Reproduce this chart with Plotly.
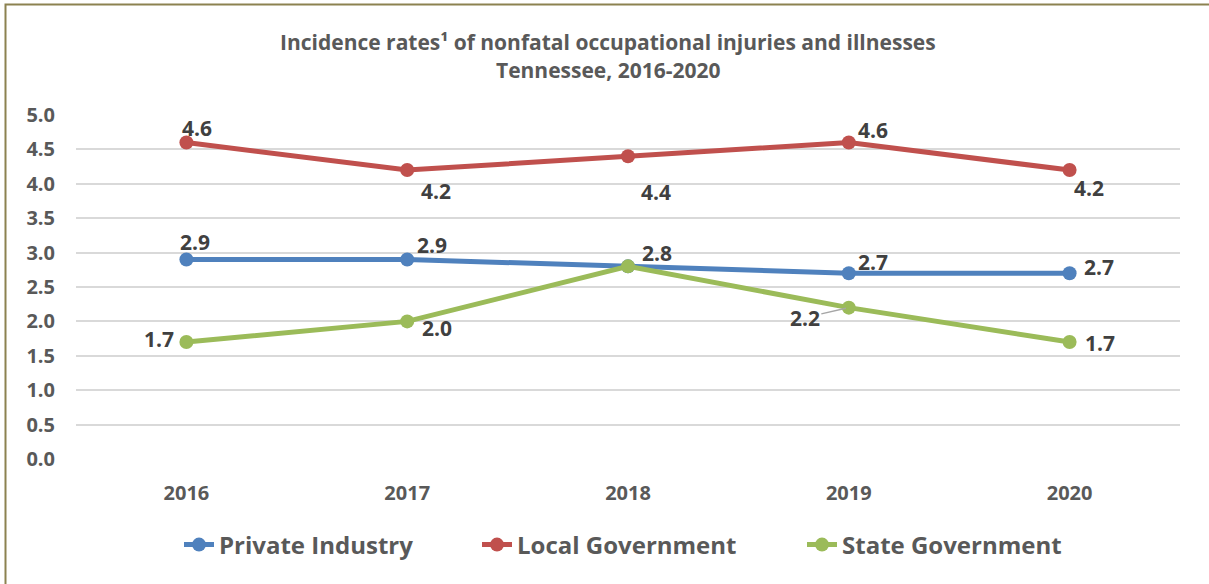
import plotly.graph_objects as go

years = ["2016", "2017", "2018", "2019", "2020"]
private_industry = [2.9, 2.9, 2.8, 2.7, 2.7]
local_government = [4.6, 4.2, 4.4, 4.6, 4.2]
state_government = [1.7, 2.0, 2.8, 2.2, 1.7]
y_ticks = [0.0, 0.5, 1.0, 1.5, 2.0, 2.5, 3.0, 3.5, 4.0, 4.5, 5.0]
title_lines = ["Incidence rates¹ of nonfatal occupational injuries and illnesses",
               "Tennessee, 2016-2020"]

series = [
    ("Private Industry", private_industry, "#4F81BD",
     [(9, -17), (25, -14), (29, -13), (24, -11), (29, -6)], 220),
    ("Local Government", local_government, "#C0504D",
     [(11, -15), (29, 21), (28, 36), (24, -13), (19, 18)], 518),
    ("State Government", state_government, "#9BBB59",
     [(-27, -3), (30, 7), None, (-44, 10), (30, 1)], 843),
]

FONT = "Open Sans"
PL, PW, PT, PH = 76, 1104, 115, 344  # plot area in pixels

fig = go.Figure()
annotations = []
legends = {}
for k, (name, vals, color, offs, text_x) in enumerate(series):
    lg = "legend" if k == 0 else f"legend{k + 1}"
    fig.add_trace(go.Scatter(
        x=years, y=vals, name=name, mode="lines+markers",
        line=dict(color=color, width=5),
        marker=dict(color=color, size=14),
        hoverinfo="skip", legend=lg,
    ))
    legends[lg] = dict(
        x=(text_x - 41 - PL) / PW, xanchor="left",
        y=(PT + PH - 545) / PH, yanchor="middle",
        orientation="h", bgcolor="rgba(0,0,0,0)",
        font=dict(family=FONT, size=24, color="#595959", weight="bold"),
        itemclick=False, itemdoubleclick=False,
    )
    for i, v in enumerate(vals):
        off = offs[i]
        if off is None:
            continue
        leader = (name == "State Government" and i == 3)
        annotations.append(dict(
            x=i, y=v, xref="x", yref="y", text=f"{v:.1f}",
            showarrow=leader, arrowhead=0, arrowcolor="#A6A6A6", arrowwidth=1.5,
            ax=off[0], ay=off[1], standoff=3,
            xshift=0 if leader else off[0], yshift=0 if leader else -off[1],
            font=dict(family=FONT, size=21, color="#404040", weight="bold"),
        ))

for line, ypix in zip(title_lines, [42, 70]):
    annotations.append(dict(x=(608 - PL) / PW, y=1 + (PT - ypix) / PH,
                            xref="paper", yref="paper", text=line,
                            showarrow=False, xanchor="center", yanchor="middle",
                            font=dict(family=FONT, size=21, color="#595959", weight="bold")))

fig.update_layout(
    width=1209, height=584,
    margin=dict(l=PL, r=1209 - PL - PW, t=PT, b=584 - PT - PH),
    paper_bgcolor="white", plot_bgcolor="white",
    showlegend=True,
    annotations=annotations,
    shapes=[dict(type="rect", xref="paper", yref="paper",
                 x0=(5.5 - PL) / PW, x1=1.2, y0=-0.6, y1=1 + (PT - 4.5) / PH,
                 line=dict(color="#8C8250", width=2), fillcolor="rgba(0,0,0,0)", layer="below")],
    **legends,
)
fig.update_xaxes(type="category", range=[-0.5, 4.5], showgrid=False, showline=False,
                 zeroline=False, ticks="", ticklabelstandoff=20,
                 tickfont=dict(family=FONT, size=20, color="#595959", weight="bold"))
fig.update_yaxes(range=[0, 5], tickvals=y_ticks, ticktext=[f"{t:.1f}" for t in y_ticks],
                 showgrid=True, gridcolor="#D9D9D9", gridwidth=1.5, zeroline=False,
                 showline=False, ticks="", ticklabelstandoff=20,
                 tickfont=dict(family=FONT, size=20, color="#595959", weight="bold"))

fig.write_html("out.html", config={"displayModeBar": False},
               post_script="document.body.style.margin='0';")
